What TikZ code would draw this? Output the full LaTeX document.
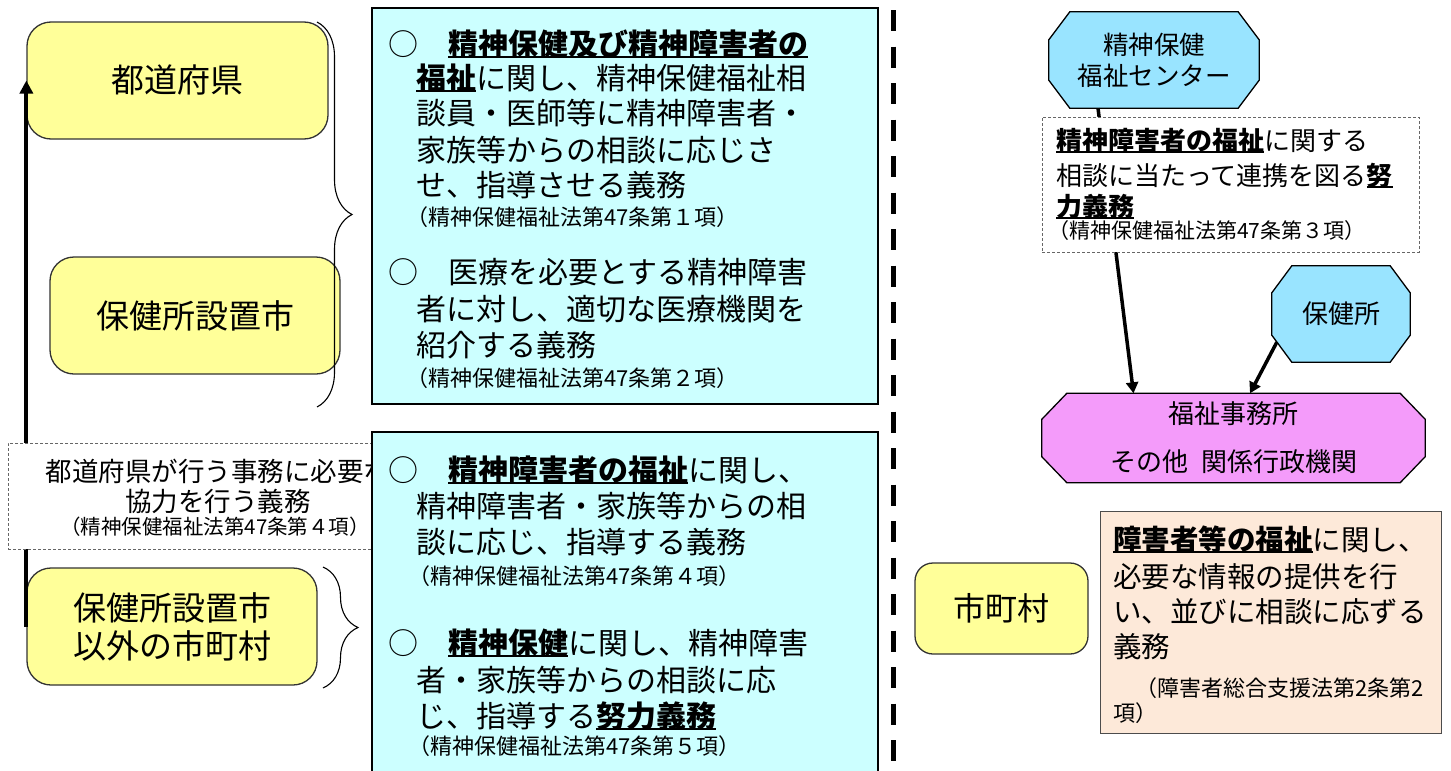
\documentclass[tikz,border=0pt]{standalone}
\usepackage{fontspec}
\setmainfont{Noto Sans CJK JP}
\usetikzlibrary{calc,arrows.meta,decorations.pathreplacing}
\pgfdeclarelayer{bottom}
\pgfdeclarelayer{background}
\pgfsetlayers{bottom,background,main}
\definecolor{yel}{RGB}{255,255,153}
\definecolor{cya}{RGB}{204,255,255}
\definecolor{sky}{RGB}{153,228,255}
\definecolor{pnk}{RGB}{244,155,250}
\definecolor{peach}{RGB}{253,233,217}
\newcommand\fs[1]{\fontsize{#1}{#1}\selectfont}
\newcommand\fss[2]{\fontsize{#1}{#2}\selectfont}
\newsavebox\ulbox
\newcommand\ulb[1]{\sbox\ulbox{\textbf{#1}}\rlap{\rule[-0.1em]{\wd\ulbox}{0.06em}}\usebox\ulbox}
\newcommand\octpath[3]{($(#1.north west)+(#2,0)$) -- ($(#1.north east)+(-#2,0)$) -- ($(#1.north east)+(0,#3)$) -- ($(#1.south east)+(0,-#3)$) -- ($(#1.south east)+(-#2,0)$) -- ($(#1.south west)+(#2,0)$) -- ($(#1.south west)+(0,-#3)$) -- ($(#1.north west)+(0,#3)$) -- cycle}
\begin{document}
\begin{tikzpicture}[x=1pt,y=-1pt,
  every node/.style={inner sep=0pt},
  ybox/.style={draw=black!80, line width=1.3pt, fill=yel, rounded corners=24pt, align=center, font=\fs{33}},
  cbox/.style={draw=black, line width=2pt, fill=cya},
  dbox/.style={draw=black!60, dash pattern=on 3pt off 2pt, line width=0.9pt, fill=white},
  octa/.style={draw=black, line width=1.3pt},
  tl/.style={anchor=base west, font=\fs{30}},
  tref/.style={anchor=base west, font=\fs{22}},
  conn/.style={line width=3.5pt, -{Triangle[length=11pt,width=12pt]}},
  brc/.style={decorate, decoration={brace, amplitude=35pt}, line width=1.1pt}
]
\useasboundingbox (0,0) rectangle (1451,771);
\begin{pgfonlayer}{bottom}
\fill[white] (0,0) rectangle (1451,771);
\end{pgfonlayer}

% left yellow boxes
\node[ybox, minimum width=301pt, minimum height=117pt] (pref) at (177.5,80.5) {都道府県};
\node[ybox, minimum width=290pt, minimum height=117pt] (hcity) at (195,315.5) {保健所設置市};
\node[ybox, minimum width=290pt, minimum height=117pt, font=\fss{33}{38}] (mun) at (172,626.5) {保健所設置市\\以外の市町村};

% upward arrow
\draw[line width=4pt, -{Triangle[length=13pt,width=13pt]}] (mun.west) -- (pref.west);

% dashed cooperation box
\node[dbox, minimum width=367pt, minimum height=106pt] (coop) at (191.5,496) {};
\node[anchor=base, font=\fs{26.5}] (coop1) at (218,481) {都道府県が行う事務に必要な};
\node[anchor=base, font=\fs{26.5}] (coop2) at (218,511) {協力を行う義務};
\node[anchor=base, font=\fs{20.5}] (coop3) at (215,534) {（精神保健福祉法第47条第４項）};

% cyan boxes
\node[cbox, minimum width=506pt, minimum height=396pt] (dutyA) at (625,206) {};
\node[cbox, minimum width=506pt, minimum height=360pt] (dutyB) at (625,612) {};

\node[tl] (a1) at (388,55) {○　\ulb{精神保健及び精神障害者の}};
\node[tl] (a2) at (416,89) {\ulb{福祉}に関し、精神保健福祉相};
\node[tl] (a3) at (416,124) {談員・医師等に精神障害者・};
\node[tl] (a4) at (416,161) {家族等からの相談に応じさ};
\node[tl] (a5) at (416,196) {せ、指導させる義務};
\node[tref] (a6) at (406,225) {（精神保健福祉法第47条第１項）};
\node[tl] (a7) at (388,283) {○　医療を必要とする精神障害};
\node[tl] (a8) at (416,320) {者に対し、適切な医療機関を};
\node[tl] (a9) at (416,356) {紹介する義務};
\node[tref] (a10) at (406,386) {（精神保健福祉法第47条第２項）};

\node[tl] (b1) at (388,481) {○　\ulb{精神障害者の福祉}に関し、};
\node[tl] (b2) at (416,517) {精神障害者・家族等からの相};
\node[tl] (b3) at (416,553) {談に応じ、指導する義務};
\node[tref] (b4) at (408,584) {（精神保健福祉法第47条第４項）};
\node[tl] (b5) at (388,654) {○　\ulb{精神保健}に関し、精神障害};
\node[tl] (b6) at (416,691) {者・家族等からの相談に応};
\node[tl] (b7) at (416,727) {じ、指導する\ulb{努力義務}};
\node[tref] (b8) at (408,754) {（精神保健福祉法第47条第５項）};

% braces
\draw[brc] (317,22) -- (317,407);
\draw[brc] (323,567) -- (323,688);

% dividing dashed line
\coordinate (divtop) at (893,10);
\coordinate (divbot) at (893,771);
\draw[line width=5pt, dash pattern=on 21pt off 15.5pt] (divtop) -- (divbot);

% right side octagons
\node[font=\fss{25.5}{31}, align=center, minimum width=210pt, minimum height=96pt] (ctr) at (1154,60) {精神保健\\福祉センター};
\node[font=\fs{26}, minimum width=138pt, minimum height=96pt] (hc) at (1341,314) {保健所};
\node[font=\fss{26}{48}, align=center, minimum width=383pt, minimum height=89pt] (wel) at (1233.5,438) {福祉事務所\\その他\hspace{0.5em}関係行政機関};
\begin{pgfonlayer}{background}
\draw[octa, fill=sky] \octpath{ctr}{21}{28};
\draw[octa, fill=sky] \octpath{hc}{20}{27};
\draw[octa, fill=pnk] \octpath{wel}{25}{26};
\end{pgfonlayer}

\draw[conn] ($(ctr.south)+(-56,0)$) -- ($(wel.north)+(-100,0)$);
\draw[conn] ($(hc.south west)+(5,-20)$) -- ($(wel.north)+(16.5,0)$);

% right dashed box
\node[dbox, minimum width=377pt, minimum height=135pt] (coord) at (1230.5,184.5) {};
\node[anchor=base west, font=\fs{26}] (r1) at (1056,150) {\ulb{精神障害者の福祉}に関する};
\node[anchor=base west, font=\fs{26}] (r2) at (1056,185) {相談に当たって連携を図る\ulb{努}};
\node[anchor=base west, font=\fs{26}] (r3) at (1056,216) {\ulb{力義務}};
\node[anchor=base west, font=\fs{21}] (r4) at (1048,238) {（精神保健福祉法第47条第３項）};

% municipality
\node[ybox, rounded corners=18pt, font=\fs{32}, minimum width=173pt, minimum height=91pt] (city) at (1001.5,608.5) {市町村};
\node[draw=black!70, line width=1pt, fill=peach, minimum width=341pt, minimum height=222pt] (pduty) at (1270.5,622) {};
\node[anchor=base west, font=\fs{28.5}] (p1) at (1113,550) {\ulb{障害者等の福祉}に関し、};
\node[anchor=base west, font=\fs{28.5}] (p2) at (1113,587) {必要な情報の提供を行};
\node[anchor=base west, font=\fs{28.5}] (p3) at (1113,622) {い、並びに相談に応ずる};
\node[anchor=base west, font=\fs{28.5}] (p4) at (1113,657) {義務};
\node[anchor=base west, font=\fs{22}] (p5) at (1113,696) {　（障害者総合支援法第2条第2};
\node[anchor=base west, font=\fs{22}] (p6) at (1113,721) {項）};
\end{tikzpicture}
\end{document}
